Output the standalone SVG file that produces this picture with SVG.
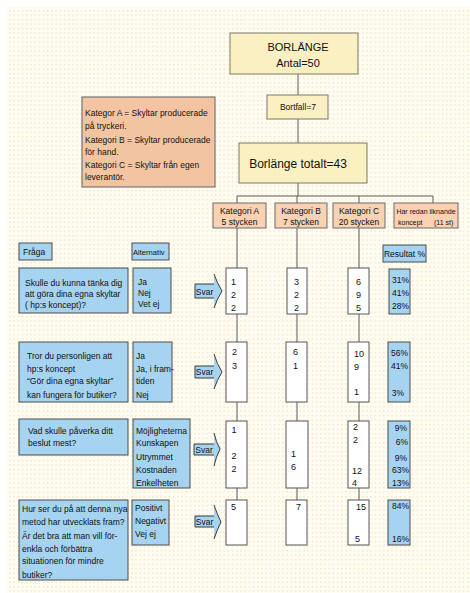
<svg xmlns="http://www.w3.org/2000/svg" width="470" height="593" viewBox="0 0 470 593">
<defs>
<pattern id="dots" width="4.2" height="4.5" patternUnits="userSpaceOnUse">
<rect width="4.2" height="4.5" fill="#fffcf2"/>
<rect x="1" y="1" width="1.2" height="1.2" fill="#f5d9aa"/>
</pattern>
<style>
text{font-family:"Liberation Sans",Arial,sans-serif;fill:#111;font-size:8.5px}
.y{fill:#fbf0c2;stroke:#7a7a6a;stroke-width:1}
.p{fill:#f8d2b2;stroke:#6a6a6a;stroke-width:1}
.lg{fill:#f3c4a2;stroke:#777;stroke-width:1.2}
.b{fill:#a5d3f0;stroke:#4d4d4d;stroke-width:1}
.w{fill:#fff;stroke:#555;stroke-width:1}
.ln{stroke:#5a5a5a;stroke-width:1;fill:none}
.c{text-anchor:middle}
.r{text-anchor:end}
.big{font-size:11px}
.sm{font-size:7px}
.num{font-size:9px}
.arf{fill:#a5d3f0;stroke:none}
.aro{fill:none;stroke:#3a3a3a;stroke-width:1}
</style>
</defs>
<rect x="0" y="0" width="470" height="593" fill="#ffffff"/>
<rect x="7" y="7" width="463" height="586" fill="url(#dots)"/>

<g id="connectors">
<path class="ln" d="M298,74V95M298,119V143M298,183V196M237,196H433M237,196V203M297,196V203M359,196V203M433,196V203"/>
<path class="ln" d="M237,228V500M297,228V500M359,228V500"/>
</g>

<g id="borlange">
<rect class="y" x="230" y="33" width="128" height="41"/>
<text class="c big" x="298" y="51">BORLÄNGE</text>
<text class="c big" x="298" y="67">Antal=50</text>
</g>
<g id="bortfall">
<rect class="y" x="267" y="95" width="61" height="24"/>
<text class="c" x="298" y="110">Bortfall=7</text>
</g>
<g id="totalt">
<rect class="y" x="239" y="143" width="128" height="40"/>
<text class="c" x="298" y="168" style="font-size:12px">Borlänge totalt=43</text>
</g>
<g id="legend">
<rect class="lg" x="82" y="97" width="133" height="90"/>
<text x="85" y="116">Kategor A = Skyltar producerade</text>
<text x="85" y="129">på tryckeri.</text>
<text x="85" y="143">Kategori B = Skyltar producerade</text>
<text x="85" y="155">för hand.</text>
<text x="85" y="168">Kategori C = Skyltar från egen</text>
<text x="85" y="180">leverantör.</text>
</g>

<g id="katA">
<rect class="p" x="213" y="203" width="53" height="25"/>
<text class="c" x="239.5" y="214">Kategori A</text>
<text class="c" x="239.5" y="225">5 stycken</text>
</g>
<g id="katB">
<rect class="p" x="275" y="203" width="52" height="25"/>
<text class="c" x="301" y="214">Kategori B</text>
<text class="c" x="301" y="225">7 stycken</text>
</g>
<g id="katC">
<rect class="p" x="333" y="203" width="52" height="25"/>
<text class="c" x="359" y="214">Kategori C</text>
<text class="c" x="359" y="225">20 stycken</text>
</g>
<g id="harRedan">
<rect class="p" x="394" y="203" width="64" height="25"/>
<text class="c sm" x="426" y="214">Har redan liknande</text>
<text class="sm" x="398" y="225">koncept<tspan x="434">(11 st)</tspan></text>
</g>

<g id="fraga">
<rect class="b" x="19" y="243" width="33" height="17"/>
<text x="23" y="255">Fråga</text>
</g>
<g id="alternativ">
<rect class="b" x="132" y="243" width="37" height="17"/>
<text x="133" y="255" style="font-size:7.6px">Alternativ</text>
</g>
<g id="resultat">
<rect class="b" x="383" y="245" width="43" height="17"/>
<text class="c" x="404.5" y="257">Resultat %</text>
</g>

<!-- Row 1 -->
<g id="q1">
<rect class="b" x="19" y="268" width="109" height="45"/>
<text x="25" y="286">Skulle du kunna tänka dig</text>
<text x="25" y="297">att göra dina egna skyltar</text>
<text x="25" y="308">( hp:s koncept)?</text>
</g>
<g id="alt1">
<rect class="b" x="133" y="268" width="38" height="45"/>
<text x="138" y="285">Ja</text>
<text x="138" y="296">Nej</text>
<text x="138" y="307">Vet ej</text>
</g>
<g id="svar1">
<path class="arf" d="M195,284H214V274Q217,283 222,291Q217,299 214,308V298H195Z"/>
<path class="aro" d="M214,284H195V298H214M214,274Q217,283 222,291Q217,299 214,308"/>
<text class="c" x="204.5" y="294.5">Svar</text>
</g>
<g id="a1A"><rect class="w" x="226" y="268" width="21" height="46"/>
<text class="num" x="231" y="285">1</text><text class="num" x="231" y="298">2</text><text class="num" x="231" y="311">2</text></g>
<g id="a1B"><rect class="w" x="287" y="268" width="20" height="46"/>
<text class="num" x="294" y="285">3</text><text class="num" x="294" y="298">2</text><text class="num" x="294" y="311">2</text></g>
<g id="a1C"><rect class="w" x="348" y="268" width="21" height="46"/>
<text class="num" x="356" y="285">6</text><text class="num" x="356" y="298">9</text><text class="num" x="356" y="311">5</text></g>
<g id="r1"><rect class="b" x="389" y="269" width="21" height="45"/>
<text class="r" x="409" y="283">31%</text><text class="r" x="409" y="296">41%</text><text class="r" x="409" y="309">28%</text></g>

<!-- Row 2 -->
<g id="q2">
<rect class="b" x="19" y="342" width="109" height="60"/>
<text x="27" y="358.5">Tror du personligen att</text>
<text x="27" y="371.5">hp:s koncept</text>
<text x="27" y="384">“Gör dina egna skyltar”</text>
<text x="27" y="397.5">kan fungera för butiker?</text>
</g>
<g id="alt2">
<rect class="b" x="133" y="342" width="39" height="60"/>
<text x="136" y="358.5">Ja</text>
<text x="136" y="371.5">Ja, i fram-</text>
<text x="136" y="384">tiden</text>
<text x="136" y="397.5">Nej</text>
</g>
<g id="svar2">
<path class="arf" d="M195,366H214V354Q217,364 222,372Q217,380 214,389V378H195Z"/>
<path class="aro" d="M214,366H195V378H214M214,354Q217,364 222,372Q217,380 214,389"/>
<text class="c" x="204.5" y="375">Svar</text>
</g>
<g id="a2A"><rect class="w" x="226" y="342" width="21" height="60"/>
<text class="num" x="232" y="355">2</text><text class="num" x="232" y="368.5">3</text></g>
<g id="a2B"><rect class="w" x="286" y="342" width="21" height="60"/>
<text class="num" x="293" y="355">6</text><text class="num" x="293" y="368.5">1</text></g>
<g id="a2C"><rect class="w" x="348" y="342" width="21" height="60"/>
<text class="num" x="354" y="356.5">10</text><text class="num" x="354" y="370">9</text><text class="num" x="354" y="395">1</text></g>
<g id="r2"><rect class="b" x="388" y="342" width="22" height="60"/>
<text class="r" x="408" y="355.5">56%</text><text class="r" x="408" y="368.5">41%</text><text class="r" x="404" y="396">3%</text></g>

<!-- Row 3 -->
<g id="q3">
<rect class="b" x="19" y="419" width="109" height="36"/>
<text x="28" y="434">Vad skulle påverka ditt</text>
<text x="28" y="446">beslut mest?</text>
</g>
<g id="alt3">
<rect class="b" x="133" y="419" width="57" height="69"/>
<text x="136" y="434">Möjligheterna</text>
<text x="136" y="446">Kunskapen</text>
<text x="136" y="460">Utrymmet</text>
<text x="136" y="472.5">Kostnaden</text>
<text x="136" y="486">Enkelheten</text>
</g>
<g id="svar3">
<path class="arf" d="M194,444H214V433Q216,442 220,449Q216,457 214,466V455H194Z"/>
<path class="aro" d="M214,444H194V455H214M214,433Q216,442 220,449Q216,457 214,466"/>
<text class="c" x="204" y="452.5">Svar</text>
</g>
<g id="a3A"><rect class="w" x="226" y="421" width="21" height="67"/>
<text class="num" x="231.5" y="432.5">1</text><text class="num" x="231.5" y="458.5">2</text><text class="num" x="231.5" y="471.5">2</text></g>
<g id="a3B"><rect class="w" x="286" y="421" width="22" height="67"/>
<text class="num" x="291" y="456.5">1</text><text class="num" x="291" y="470">6</text></g>
<g id="a3C"><rect class="w" x="348" y="421" width="21" height="67"/>
<text class="num" x="353" y="430">2</text><text class="num" x="353" y="443">2</text><text class="num" x="352" y="473.5">12</text><text class="num" x="352" y="486">4</text></g>
<g id="r3"><rect class="b" x="388" y="421" width="22" height="67"/>
<text class="r" x="407" y="430.5">9%</text><text class="r" x="408" y="444.5">6%</text><text class="r" x="407" y="460.5">9%</text><text class="r" x="409" y="472.5">63%</text><text class="r" x="409" y="485.5">13%</text></g>

<!-- Row 4 -->
<g id="q4">
<rect class="b" x="19" y="500" width="109" height="80"/>
<text x="22" y="511.5">Hur ser du på att denna nya</text>
<text x="22" y="525">metod har utvecklats fram?</text>
<text x="22" y="538.5">Är det bra att man vill för-</text>
<text x="22" y="551.5">enkla och förbättra</text>
<text x="22" y="564">situationen för mindre</text>
<text x="22" y="577.5">butiker?</text>
</g>
<g id="alt4">
<rect class="b" x="132" y="500" width="37" height="45"/>
<text x="135" y="511">Positivt</text>
<text x="135" y="524">Negativt</text>
<text x="135" y="536.5">Vej ej</text>
</g>
<g id="svar4">
<path class="arf" d="M195,516H214V505Q217,514 221,522Q217,530 214,539V527H195Z"/>
<path class="aro" d="M214,516H195V527H214M214,505Q217,514 221,522Q217,530 214,539"/>
<text class="c" x="204.5" y="525">Svar</text>
</g>
<g id="a4A"><rect class="w" x="226" y="500" width="21" height="45"/>
<text class="num" x="231" y="510">5</text></g>
<g id="a4B"><rect class="w" x="286" y="500" width="21" height="45"/>
<text class="num" x="296" y="510">7</text></g>
<g id="a4C"><rect class="w" x="348" y="500" width="21" height="45"/>
<text class="num" x="356" y="510">15</text><text class="num" x="355" y="542">5</text></g>
<g id="r4"><rect class="b" x="388" y="500" width="22" height="45"/>
<text class="r" x="409" y="509">84%</text><text class="r" x="409" y="542">16%</text></g>
</svg>
